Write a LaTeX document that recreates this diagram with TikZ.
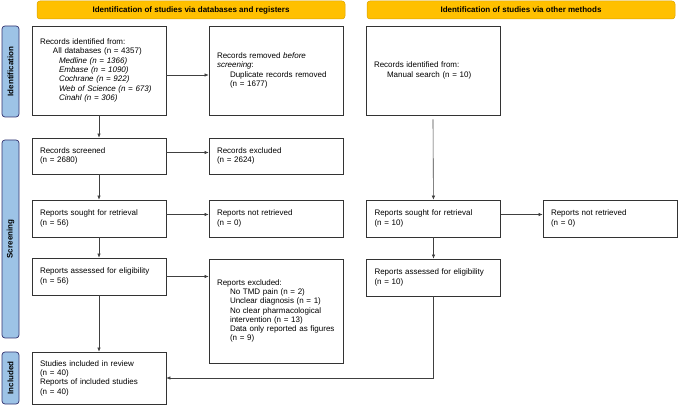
\documentclass[tikz,border=0pt]{standalone}
\usepackage{fontspec}
\setmainfont{Liberation Sans}
\usetikzlibrary{arrows.meta}

\definecolor{prismaorange}{HTML}{FFC000}
\definecolor{prismablue}{HTML}{9DC3E6}

\tikzset{
	box/.style={draw=black!80, line width=0.7pt, rectangle, align=left, text width=118pt, inner xsep=8pt, inner ysep=0pt, font=\fontsize{8}{9.3}\selectfont},
	header/.style={draw=prismaorange!85!black, fill=prismaorange, line width=0.5pt, rounded corners=3pt, minimum width=308pt, minimum height=18pt, font=\fontsize{8}{9.3}\selectfont\bfseries},
	phase/.style={draw=black!60!blue!60!gray, fill=prismablue, line width=0.7pt, rounded corners=3pt, rotate=90, minimum height=17pt, font=\fontsize{8}{9.3}\selectfont\bfseries},
	flow/.style={draw=black!75, line width=0.6pt, -{Latex[length=4pt,width=3.5pt]}}
}

\begin{document}
\begin{tikzpicture}[x=1pt,y=-1pt]
	\useasboundingbox (0,0) rectangle (678,406);

	\node[header] (dbhead) at (191,10) {Identification of studies via databases and registers};
	\node[header] (otherhead) at (521,10) {Identification of studies via other methods};

	\node[phase, minimum width=91pt] (identphase) at (10.5,71.5) {Identification};
	\node[phase, minimum width=198pt] (screenphase) at (10.5,239) {Screening};
	\node[phase, minimum width=52pt] (inclphase) at (10.5,378) {Included};

	\node[box, minimum height=89pt] (identified) at (99,70.5) {Records identified from:\\
		\hspace*{13pt}All databases (n = 4357)\\
		\hspace*{19pt}\textit{Medline (n = 1366)}\\
		\hspace*{19pt}\textit{Embase (n = 1090)}\\
		\hspace*{19pt}\textit{Cochrane (n = 922)}\\
		\hspace*{19pt}\textit{Web of Science (n = 673)}\\
		\hspace*{19pt}\textit{Cinahl (n = 306)}};
	\node[box, minimum height=89pt] (removed) at (276,70.5) {Records removed \textit{before}\\
		\textit{screening}:\\
		\hspace*{13pt}Duplicate records removed\\
		\hspace*{13pt}(n = 1677)};
	\node[box, minimum height=89pt] (manual) at (433,70.5) {Records identified from:\\
		\hspace*{13pt}Manual search (n = 10)};

	\node[box, minimum height=36pt] (screened) at (99,156) {Records screened\\(n = 2680)};
	\node[box, minimum height=36pt] (excluded) at (276,156) {Records excluded\\(n = 2624)};

	\node[box, minimum height=37pt] (sought) at (99,218.5) {Reports sought for retrieval\\(n = 56)};
	\node[box, minimum height=37pt] (notretr) at (276,218.5) {Reports not retrieved\\(n = 0)};
	\node[box, minimum height=37pt] (soughtother) at (433.5,218.5) {Reports sought for retrieval\\(n = 10)};
	\node[box, minimum height=37pt] (notretrother) at (610,218.5) {Reports not retrieved\\(n = 0)};

	\node[box, minimum height=37pt] (assessed) at (99,276.5) {Reports assessed for eligibility\\(n = 56)};
	\node[box, minimum height=104pt] (repexcl) at (276,311) {Reports excluded:\\
		\hspace*{13pt}No TMD pain (n = 2)\\
		\hspace*{13pt}Unclear diagnosis (n = 1)\\
		\hspace*{13pt}No clear pharmacological\\
		\hspace*{13pt}intervention (n = 13)\\
		\hspace*{13pt}Data only reported as figures\\
		\hspace*{13pt}(n = 9)};
	\node[box, minimum height=37pt] (assessedother) at (433.5,277.5) {Reports assessed for eligibility\\(n = 10)};

	\node[box, minimum height=52pt] (included) at (99,378) {Studies included in review\\(n = 40)\\Reports of included studies\\(n = 40)};

	\draw[flow] (identified) -- (screened);
	\draw[flow] ([yshift=-4.5pt]identified.east) -- ([yshift=-4.5pt]removed.west);
	\draw[flow] ([yshift=3.5pt]screened.east) -- ([yshift=3.5pt]excluded.west);
	\draw[flow] (screened) -- (sought);
	\draw[flow] ([yshift=4pt]sought.east) -- ([yshift=4pt]notretr.west);
	\draw[flow] (sought) -- (assessed);
	\draw[flow] (assessed) -- (repexcl.west |- assessed);
	\draw[flow] (assessed) -- (included);

	\draw[flow] ([yshift=-4pt]manual.south) -- (soughtother);
	\draw[flow] ([yshift=4pt]soughtother.east) -- ([yshift=4pt]notretrother.west);
	\draw[flow] (soughtother) -- (assessedother);
	\draw[flow] (assessedother.south) |- (included.east);
\end{tikzpicture}
\end{document}
